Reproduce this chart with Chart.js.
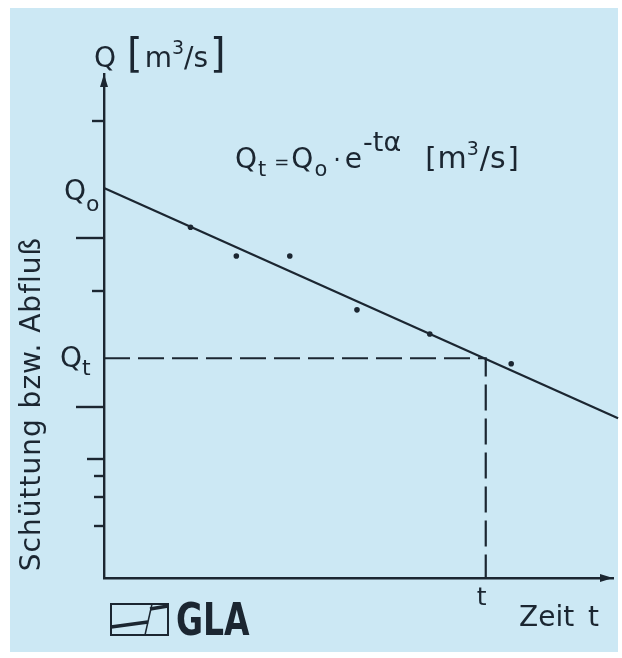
<!DOCTYPE html>
<html>
<head>
<meta charset="utf-8">
<script src="https://cdn.jsdelivr.net/npm/chart.js@4.4.0/dist/chart.umd.min.js"></script>
<style>
  html, body { margin: 0; padding: 0; background: #fff; }
  canvas { display: block; }
</style>
</head>
<body>
<canvas id="chart" width="622" height="658"></canvas>
<script>
// measured discharge (arbitrary units, time 0..100, Q 0..100)
const measTime = [17, 26, 36.5, 49.7, 64, 80];
const measQ = [69.6, 63.9, 63.9, 53.2, 48.4, 42.5];

// fitted recession line Q0 -> end of drawing
const fitTime = [0, 101];
const fitQ = [77.4, 31.7];

// marked values
const qNull = 77.4;
const qT = 43.6;
const tMark = 75;

// tick marks on the Q axis
const yTickValues = [90.7, 67.5, 56.9, 33.9, 23.6, 20.2, 16.1, 10.3];

const ink = '#1b2631';
const FONT = '"DejaVu Sans", sans-serif';
const yTickLen = [12, 28, 12, 28, 17, 10, 10, 10];

// write text pieces one after another (sub/superscripts)
function drawRich(ctx, x, y, parts) {
  for (const p of parts) {
    ctx.font = (p.bold ? 'bold ' : '') + p.size + 'px ' + FONT;
    ctx.fillText(p.text, x, y + (p.dy || 0));
    x += ctx.measureText(p.text).width + (p.gap || 0);
  }
}

const paperPlugin = {
  id: 'paper',
  beforeDraw(chart) {
    const ctx = chart.ctx;
    ctx.save();
    ctx.fillStyle = '#ffffff';
    ctx.fillRect(0, 0, chart.width, chart.height);
    ctx.fillStyle = '#cce8f4';
    ctx.fillRect(10, 8, 608, 644);
    ctx.restore();
  }
};

const sketchPlugin = {
  id: 'sketch',
  afterDraw(chart) {
    const ctx = chart.ctx;
    const x = chart.scales.x, y = chart.scales.y;
    const a = chart.chartArea;
    ctx.save();
    ctx.fillStyle = ink;
    ctx.strokeStyle = ink;

    // arrow heads
    ctx.beginPath();
    ctx.moveTo(a.left, a.top);
    ctx.lineTo(a.left - 4, a.top + 13);
    ctx.lineTo(a.left + 4, a.top + 13);
    ctx.closePath();
    ctx.fill();
    ctx.beginPath();
    ctx.moveTo(a.right, a.bottom);
    ctx.lineTo(a.right - 13, a.bottom - 4);
    ctx.lineTo(a.right - 13, a.bottom + 4);
    ctx.closePath();
    ctx.fill();

    // tick marks left of the Q axis
    ctx.lineWidth = 2.4;
    yTickValues.forEach((v, i) => {
      const py = Math.round(y.getPixelForValue(v));
      ctx.beginPath();
      ctx.moveTo(a.left - yTickLen[i], py);
      ctx.lineTo(a.left, py);
      ctx.stroke();
    });

    ctx.textAlign = 'left';
    ctx.textBaseline = 'alphabetic';

    // axis heading
    drawRich(ctx, 94, 67, [
      { text: 'Q', size: 28, gap: 11 },
      { text: '[', size: 40, dy: 0, gap: 2 },
      { text: 'm', size: 28 },
      { text: '3', size: 19, dy: -13 },
      { text: '/s', size: 28, gap: 2 },
      { text: ']', size: 40 }
    ]);

    // formula
    drawRich(ctx, 235, 168, [
      { text: 'Q', size: 28, gap: 1 },
      { text: 't', size: 21, dy: 8, gap: 8 },
      { text: '=', size: 18, gap: 2 },
      { text: 'Q', size: 28, gap: 1 },
      { text: 'o', size: 21, dy: 8, gap: 6 },
      { text: '·', size: 24, gap: 4 },
      { text: 'e', size: 28, gap: 1 },
      { text: '-tα', size: 27, dy: -17, gap: 24 },
      { text: '[', size: 29, gap: 1 },
      { text: 'm', size: 30 },
      { text: '3', size: 19, dy: -13, gap: 1 },
      { text: '/s', size: 30, gap: 2 },
      { text: ']', size: 29 }
    ]);

    // Q0 and Qt on the axis
    const p0 = y.getPixelForValue(qNull);
    drawRich(ctx, 64, p0 + 12, [
      { text: 'Q', size: 28, gap: 0 },
      { text: 'o', size: 22, dy: 11 }
    ]);
    const pt = y.getPixelForValue(qT);
    drawRich(ctx, 60, pt + 9, [
      { text: 'Q', size: 28, gap: 0 },
      { text: 't', size: 22, dy: 8 }
    ]);

    // t under the time axis
    ctx.font = '25px ' + FONT;
    ctx.textAlign = 'center';
    ctx.fillText('t', x.getPixelForValue(tMark) - 4, a.bottom + 27);

    ctx.textAlign = 'left';
    ctx.font = '28px ' + FONT;
    ctx.fillText('Zeit', 519, 626);
    ctx.fillText('t', 588, 626);

    // rotated axis title
    ctx.save();
    ctx.translate(33, 404);
    ctx.rotate(-Math.PI / 2);
    ctx.textAlign = 'center';
    ctx.textBaseline = 'middle';
    ctx.font = '28px ' + FONT;
    ctx.letterSpacing = '1px';
    ctx.fillText('Schüttung bzw. Abfluß', 0, 0);
    ctx.restore();

    // GLA logo
    ctx.lineWidth = 2;
    ctx.strokeRect(111, 604, 57, 31);
    ctx.lineWidth = 1.5;
    ctx.beginPath();
    ctx.moveTo(152, 604);
    ctx.lineTo(145, 635);
    ctx.stroke();
    ctx.lineWidth = 3.5;
    ctx.beginPath();
    ctx.moveTo(111, 627);
    ctx.lineTo(148, 622);
    ctx.moveTo(150, 609);
    ctx.lineTo(168, 606);
    ctx.stroke();
    ctx.save();
    ctx.translate(176, 635);
    ctx.scale(0.75, 1);
    ctx.font = 'bold 44px ' + FONT;
    ctx.fillText('GLA', 0, 0);
    ctx.restore();

    ctx.restore();
  }
};

new Chart(document.getElementById('chart'), {
  type: 'scatter',
  data: {
    datasets: [
      {
        label: 'Messwerte',
        data: measTime.map((t, i) => ({ x: t, y: measQ[i] })),
        backgroundColor: ink,
        borderColor: ink,
        pointRadius: 2.8,
        pointBorderWidth: 0
      },
      {
        label: 'Ausgleichslinie',
        data: fitTime.map((t, i) => ({ x: t, y: fitQ[i] })),
        showLine: true,
        borderColor: ink,
        borderWidth: 2.2,
        pointRadius: 0,
        clip: false
      },
      {
        label: 'Qt',
        data: [{ x: 0, y: qT }, { x: tMark, y: qT }, { x: tMark, y: 0 }],
        showLine: true,
        borderColor: ink,
        borderWidth: 2.2,
        borderDash: [26, 8],
        pointRadius: 0
      }
    ]
  },
  options: {
    responsive: false,
    animation: false,
    devicePixelRatio: 1,
    layout: { padding: { left: 104, top: 74, right: 9, bottom: 80 } },
    plugins: { legend: { display: false }, tooltip: { enabled: false } },
    scales: {
      x: {
        min: 0, max: 100,
        grid: { display: true, drawOnChartArea: false, drawTicks: false, color: 'rgba(0,0,0,0)' },
        border: { display: true, color: ink, width: 2.4 },
        ticks: { display: false }
      },
      y: {
        min: 0, max: 100,
        grid: { display: true, drawOnChartArea: false, drawTicks: false, color: 'rgba(0,0,0,0)' },
        border: { display: true, color: ink, width: 2.4 },
        ticks: { display: false }
      }
    }
  },
  plugins: [paperPlugin, sketchPlugin]
});
</script>
</body>
</html>
